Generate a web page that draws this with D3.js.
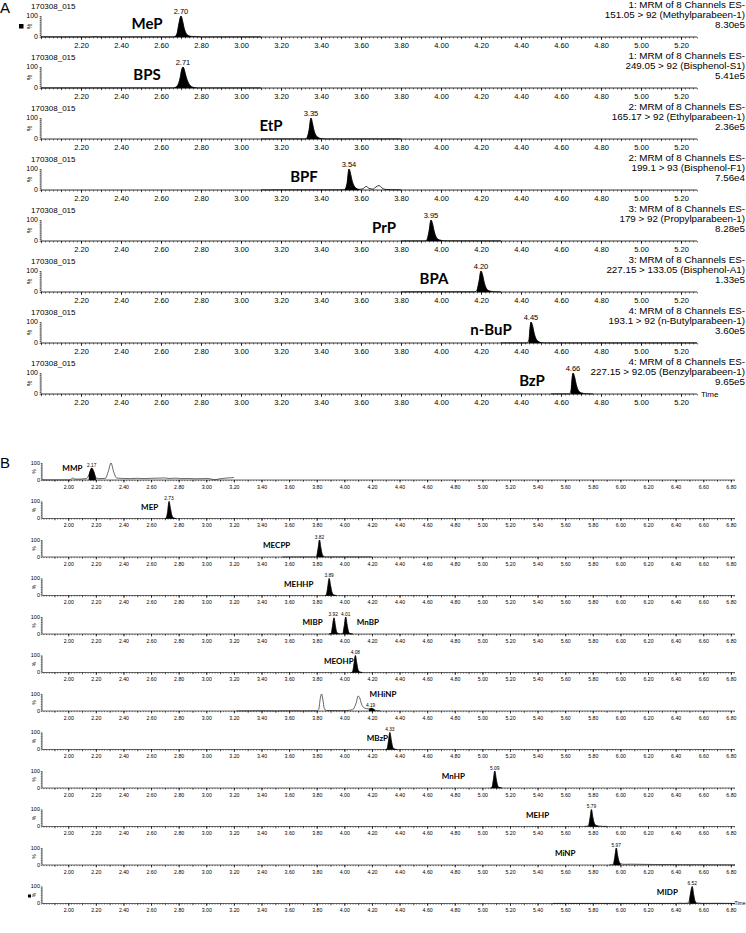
<!DOCTYPE html>
<html><head><meta charset="utf-8">
<script src="https://cdn.jsdelivr.net/npm/d3@7"></script>
<style>
body{margin:0;background:#fff}
svg{display:block}
text{font-family:"Liberation Sans",Arial,sans-serif;fill:#000}
.nar{font-family:"Liberation Sans Narrow","Liberation Sans",Arial,sans-serif}
.cmp{font-family:Lato,"Open Sans",sans-serif;font-weight:700}
</style></head><body>
<svg id="c" width="746" height="933"></svg>
<script>
// ---------------- DATA ----------------
const runLabel = "170308_015";

// Panel A
const compoundsA = ["MeP","BPS","EtP","BPF","PrP","BPA","n-BuP","BzP"];
const rtA = [2.70, 2.71, 3.35, 3.54, 3.95, 4.20, 4.45, 4.66];
const labelTimeA = [2.53, 2.53, 3.15, 3.315, 3.715, 3.965, 4.25, 4.455];
const channelA = ["1: MRM of 8 Channels ES-","1: MRM of 8 Channels ES-","2: MRM of 8 Channels ES-","2: MRM of 8 Channels ES-","3: MRM of 8 Channels ES-","3: MRM of 8 Channels ES-","4: MRM of 8 Channels ES-","4: MRM of 8 Channels ES-"];
const transitionA = ["151.05 > 92 (Methylparabeen-1)","249.05 > 92 (Bisphenol-S1)","165.17 > 92 (Ethylparabeen-1)","199.1 > 93 (Bisphenol-F1)","179 > 92 (Propylparabeen-1)","227.15 > 133.05 (Bisphenol-A1)","193.1 > 92 (n-Butylparabeen-1)","227.15 > 92.05 (Benzylparabeen-1)"];
const intensityA = ["8.30e5","5.41e5","2.36e5","7.56e4","8.28e5","1.33e5","3.60e5","9.65e5"];
const tickLabelsA = ["2.20","2.40","2.60","2.80","3.00","3.20","3.40","3.60","3.80","4.00","4.20","4.40","4.60","4.80","5.00","5.20"];

const sigMeP = [[2.00,0.5],[2.03,1.2],[2.06,0.5],[2.25,0.5],[2.27,1.5],[2.30,0.5],[2.66,0.5],[2.670,2],[2.680,15],[2.690,65],[2.700,100],[2.708,75],[2.716,40],[2.725,18],[2.735,7],[2.75,3],[2.78,2],[2.80,0.5],[3.10,0.5]];
const sigBPS = [[2.00,0.5],[2.66,0.5],[2.670,2],[2.685,15],[2.695,45],[2.703,85],[2.710,100],[2.717,85],[2.725,55],[2.735,28],[2.745,12],[2.755,5],[2.77,1.5],[2.79,0.5],[3.10,0.5]];
const sigEtP = [[3.10,0.5],[3.32,0.5],[3.330,5],[3.340,40],[3.350,100],[3.357,75],[3.365,40],[3.375,17],[3.385,7],[3.40,2],[3.42,0.5],[3.80,0.5]];
const sigBPF = [[3.10,0.5],[3.30,1],[3.40,1],[3.50,1],[3.520,2],[3.530,30],[3.540,100],[3.547,80],[3.555,45],[3.565,20],[3.575,8],[3.59,3],[3.61,6],[3.625,17],[3.64,8],[3.66,4],[3.675,15],[3.69,21],[3.705,10],[3.72,3],[3.75,1.5],[3.80,1]];
const sigPrP = [[3.80,0.5],[3.92,0.5],[3.930,5],[3.940,45],[3.950,100],[3.958,80],[3.966,45],[3.975,20],[3.985,8],[4.00,3],[4.03,1],[4.30,0.5]];
const sigBPA = [[3.80,0.5],[3.85,1],[3.95,1.2],[4.10,1],[4.17,1],[4.180,8],[4.190,50],[4.200,100],[4.208,80],[4.216,45],[4.225,20],[4.235,8],[4.25,3],[4.28,1],[4.30,0.5]];
const sigNBuP = [[4.30,0.5],[4.43,0.5],[4.440,15],[4.450,100],[4.458,80],[4.466,45],[4.475,20],[4.485,8],[4.50,2],[4.52,0.5],[5.28,0.5]];
const sigBzP = [[4.55,0.5],[4.64,0.5],[4.650,15],[4.660,100],[4.668,80],[4.676,45],[4.685,20],[4.695,8],[4.71,3],[4.74,1],[4.76,0.5]];
const signalsA = [sigMeP, sigBPS, sigEtP, sigBPF, sigPrP, sigBPA, sigNBuP, sigBzP];
const fillsA = [[[2.665,2.76]],[[2.665,2.78]],[[3.325,3.41]],[[3.515,3.59]],[[3.925,4.01]],[[4.175,4.25]],[[4.435,4.51]],[[4.645,4.72]]];

// Panel B
const tickLabelsB = ["2.00","2.20","2.40","2.60","2.80","3.00","3.20","3.40","3.60","3.80","4.00","4.20","4.40","4.60","4.80","5.00","5.20","5.40","5.60","5.80","6.00","6.20","6.40","6.60","6.80"];
const labelTextB  = ["MMP","MEP","MECPP","MEHHP","MIBP","MnBP","MEOHP","MHiNP","MBzP","MnHP","MEHP","MiNP","MIDP"];
const labelTraceB = [0,1,2,3,4,4,5,6,7,8,9,10,11];
const labelTimeB  = [2.03,2.59,3.51,3.67,3.77,4.17,3.96,4.28,4.24,4.79,5.40,5.60,6.34];
const peakLabelB  = ["2.17","2.73","3.82","3.89","3.92","4.01","4.08","4.19","4.33","5.09","5.79","5.97","6.52"];
const peakTraceB  = [0,1,2,3,4,4,5,6,7,8,9,10,11];
const peakPctB    = [70,100,100,100,95,100,100,16,100,100,100,100,100];

const sigMMP = [[1.81,0.5],[2.01,0.5],[2.02,4],[2.03,12],[2.045,6],[2.07,5],[2.10,6],[2.13,8],[2.15,30],[2.17,70],[2.185,50],[2.20,12],[2.23,8],[2.27,10],[2.29,50],[2.31,100],[2.33,45],[2.35,12],[2.40,9],[2.45,8],[2.50,10],[2.55,8],[2.60,10],[2.65,11],[2.70,12],[2.73,9],[2.78,11],[2.82,8],[2.87,9],[2.92,7],[2.97,8],[3.00,9],[3.03,7],[3.06,1],[3.09,6],[3.12,9],[3.15,12],[3.18,13],[3.20,15]];
const sigMEP = [[2.70,0],[2.710,3],[2.720,40],[2.730,100],[2.740,60],[2.750,20],[2.760,5],[2.78,0]];
const sigMECPP = [[3.55,0.5],[3.79,0.5],[3.800,5],[3.810,50],[3.820,100],[3.830,55],[3.840,15],[3.850,4],[3.87,1],[4.20,0.5]];
const sigMEHHP = [[3.86,0],[3.870,5],[3.880,50],[3.890,100],[3.900,60],[3.910,20],[3.920,5],[3.94,0]];
const sigMIBP = [[3.89,0],[3.905,5],[3.915,50],[3.925,95],[3.935,50],[3.945,10],[3.96,2],[3.99,3],[4.000,50],[4.010,100],[4.020,55],[4.030,15],[4.040,3],[4.06,0]];
const sigMEOHP = [[4.05,0],[4.060,5],[4.070,50],[4.080,100],[4.090,55],[4.100,15],[4.110,4],[4.13,0]];
const sigMHiNP = [[3.22,0.5],[3.40,1.5],[3.50,0.5],[3.60,1.5],[3.70,1],[3.80,1.5],[3.815,10],[3.825,70],[3.835,100],[3.845,65],[3.855,15],[3.87,3],[3.92,3],[3.97,2],[4.02,3],[4.06,8],[4.085,45],[4.100,88],[4.110,80],[4.125,40],[4.14,20],[4.16,14],[4.18,12],[4.195,16],[4.205,14],[4.22,6],[4.24,2],[4.26,0.5]];
const sigMBzP = [[4.30,0],[4.310,5],[4.320,50],[4.330,100],[4.340,55],[4.350,15],[4.360,4],[4.38,0]];
const sigMnHP = [[5.06,0],[5.070,5],[5.080,50],[5.090,100],[5.100,55],[5.110,15],[5.120,4],[5.14,0]];
const sigMEHP = [[5.74,0.5],[5.77,5],[5.780,50],[5.790,100],[5.800,55],[5.810,20],[5.820,8],[5.84,3],[5.87,1],[5.90,0.5]];
const sigMiNP = [[5.92,0.5],[5.950,5],[5.960,50],[5.970,100],[5.980,55],[5.990,20],[6.00,8],[6.03,4],[6.08,5],[6.15,4],[6.25,3],[6.35,3],[6.45,2],[6.55,2],[6.65,1.5],[6.75,1],[6.83,0.5]];
const sigMIDP = [[5.51,0.5],[6.40,0.5],[6.43,2],[6.46,1],[6.49,3],[6.500,20],[6.510,70],[6.520,100],[6.530,55],[6.540,15],[6.550,4],[6.57,2],[6.60,1],[6.70,1.5],[6.83,0.5]];
const signalsB = [sigMMP,sigMEP,sigMECPP,sigMEHHP,sigMIBP,sigMEOHP,sigMHiNP,sigMBzP,sigMnHP,sigMEHP,sigMiNP,sigMIDP];
const fillsB = [[[2.14,2.205]],[[2.70,2.78]],[[3.795,3.86]],[[3.86,3.94]],[[3.89,3.96],[3.985,4.06]],[[4.05,4.13]],[[4.175,4.23]],[[4.30,4.38]],[[5.06,5.14]],[[5.765,5.85]],[[5.945,6.02]],[[6.495,6.56]]];

// ---------------- DRAW ----------------
const svg = d3.select("#c");

function drawTrace(g, x, y, sig, fills, sw) {
  const line = d3.line().x(d => x(d[0])).y(d => y(d[1])).curve(d3.curveMonotoneX);
  const area = d3.area().x(d => x(d[0])).y0(y(0)).y1(d => y(d[1])).curve(d3.curveMonotoneX);
  fills.forEach(([s, e]) => {
    const pts = sig.filter(d => d[0] >= s - 1e-9 && d[0] <= e + 1e-9);
    g.append("path").attr("d", area(pts)).attr("fill", "#000").attr("stroke", "#000").attr("stroke-width", 0.4);
  });
  g.append("path").attr("d", line(sig)).attr("fill", "none").attr("stroke", "#000").attr("stroke-width", sw);
}

function drawAxes(g, x, y, majors, minorVals, midVals, fs, sizes, cls, lbl) {
  const y0 = y(0);
  g.append("g").attr("transform", `translate(0,${y0})`)
    .call(d3.axisBottom(x).tickValues(minorVals).tickSize(sizes.minor).tickFormat(""))
    .call(a => a.select(".domain").remove())
    .selectAll("line").attr("stroke-width", 0.5);
  g.append("g").attr("transform", `translate(0,${y0})`)
    .call(d3.axisBottom(x).tickValues(midVals).tickSize(sizes.mid).tickFormat(""))
    .call(a => a.select(".domain").remove())
    .selectAll("line").attr("stroke-width", 0.6);
  const ax = g.append("g").attr("transform", `translate(0,${y0})`)
    .call(d3.axisBottom(x).tickValues(majors.map(Number)).tickSize(sizes.major).tickPadding(sizes.pad).tickFormat((d, i) => majors[i]));
  ax.select(".domain").remove();
  ax.selectAll("line").attr("stroke-width", 0.6);
  ax.selectAll("text").attr("class", cls).attr("font-size", fs).attr("font-family", null);
  g.append("line").attr("x1", x.range()[0]).attr("x2", x.range()[1]).attr("y1", y0).attr("y2", y0)
    .attr("stroke", "#000").attr("stroke-width", sizes.axisW);
  const yx = x.range()[0];
  g.append("g").attr("transform", `translate(${yx},0)`)
    .call(d3.axisLeft(y).tickValues(d3.range(0, 101, 10)).tickSize(sizes.ytick).tickFormat(""))
    .call(a => a.select(".domain").remove())
    .selectAll("line").attr("stroke-width", 0.5);
  g.append("line").attr("x1", yx).attr("x2", yx).attr("y1", y(100)).attr("y2", y0).attr("stroke", "#000").attr("stroke-width", 0.6);
  g.append("text").attr("class", cls).attr("x", yx - lbl.dx).attr("y", y(100) + lbl.fs * 0.35).attr("text-anchor", "end").attr("font-size", lbl.fs).text("100");
  g.append("text").attr("class", cls).attr("x", yx - lbl.dx).attr("y", y0 + lbl.fs * 0.35).attr("text-anchor", "end").attr("font-size", lbl.fs).text("0");
  g.append("text").attr("class", cls).attr("font-size", lbl.fs * 0.9)
    .attr("transform", `translate(${yx - lbl.pdx},${(y(100) + y0) / 2}) rotate(-90)`).attr("text-anchor", "middle").text("%");
}

// ---- Panel A ----
const xA = d3.scaleLinear().domain([2.0, 5.28]).range([41, 697]);
const minorA = d3.range(100, 265).map(i => i / 50);
const midA = d3.range(20, 53).map(i => i / 10);
svg.append("text").attr("x", 0).attr("y", 13).attr("font-size", 15).text("A");
compoundsA.forEach((c, i) => {
  const y0 = 37 + i * 51, y100 = 16 + i * 51;
  const y = d3.scaleLinear().domain([0, 100]).range([y0, y100]);
  const g = svg.append("g");
  g.append("text").attr("x", 31).attr("y", y100 - 7).attr("font-size", 8).text(runLabel);
  drawAxes(g, xA, y, tickLabelsA, minorA, midA, 7.5, {minor: 1.5, mid: 2.2, major: 3, pad: 2.5, axisW: 0.8, ytick: 1.5}, "", {fs: 7, dx: 3, pdx: 9});
  drawTrace(g, xA, y, signalsA[i], fillsA[i], 0.8);
  g.append("text").attr("x", xA(rtA[i])).attr("y", y100 - 2).attr("text-anchor", "middle").attr("font-size", 7.5).text(rtA[i].toFixed(2));
  g.append("text").attr("class", "cmp").attr("x", xA(labelTimeA[i])).attr("y", y100 + 13).attr("text-anchor", "middle").attr("font-size", 15).text(c);
  const rt = g.append("text").attr("text-anchor", "end").attr("font-size", 9.8);
  rt.append("tspan").attr("x", 745).attr("y", y100 - 8).text(channelA[i]);
  rt.append("tspan").attr("x", 745).attr("y", y100 + 2).text(transitionA[i]);
  rt.append("tspan").attr("x", 745).attr("y", y100 + 12).text(intensityA[i]);
  if (i === 0) g.append("rect").attr("x", 19).attr("y", y100 + 8).attr("width", 4.5).attr("height", 4.5).attr("fill", "#000");
  if (i === compoundsA.length - 1) g.append("text").attr("x", 701).attr("y", y0 + 3).attr("font-size", 8).text("Time");
});

// ---- Panel B ----
const xB = d3.scaleLinear().domain([1.81, 6.83]).range([42, 735]);
const minorB = d3.range(91, 342).map(i => i / 50);
const midB = d3.range(19, 69).map(i => i / 10);
svg.append("text").attr("x", 0).attr("y", 468).attr("font-size", 15).text("B");
signalsB.forEach((sig, i) => {
  const y0 = 480 + i * 38.5, y100 = 463 + i * 38.5;
  const y = d3.scaleLinear().domain([0, 100]).range([y0, y100]);
  const g = svg.append("g");
  drawAxes(g, xB, y, tickLabelsB, minorB, midB, 5.2, {minor: 1.2, mid: 1.8, major: 2.5, pad: 2.5, axisW: 0.6, ytick: 1.2}, "nar", {fs: 5.5, dx: 2, pdx: 6});
  drawTrace(g, xB, y, sig, fillsB[i], 0.6);
  if (i === signalsB.length - 1) {
    g.append("rect").attr("x", 28).attr("y", y0 - 9).attr("width", 3).attr("height", 3).attr("fill", "#000");
    g.append("text").attr("class", "nar").attr("x", 745.5).attr("y", y0 + 1.5).attr("text-anchor", "end").attr("font-size", 5).text("Time");
  }
});
labelTextB.forEach((t, j) => {
  const i = labelTraceB[j];
  const y100 = 463 + i * 38.5;
  const dy = t === "MHiNP" ? 3 : 8;
  svg.append("text").attr("class", "cmp").attr("x", xB(labelTimeB[j])).attr("y", y100 + dy).attr("text-anchor", "middle").attr("font-size", 8).text(t);
});
peakLabelB.forEach((t, j) => {
  const i = peakTraceB[j];
  const y0 = 480 + i * 38.5, y100 = 463 + i * 38.5;
  const y = d3.scaleLinear().domain([0, 100]).range([y0, y100]);
  const yy = t === "4.19" ? y0 - 4 : y(peakPctB[j]) - 1.5;
  svg.append("text").attr("class", "nar").attr("x", xB(+t)).attr("y", yy).attr("text-anchor", "middle").attr("font-size", 4.8).text(t);
});
</script></body></html>
